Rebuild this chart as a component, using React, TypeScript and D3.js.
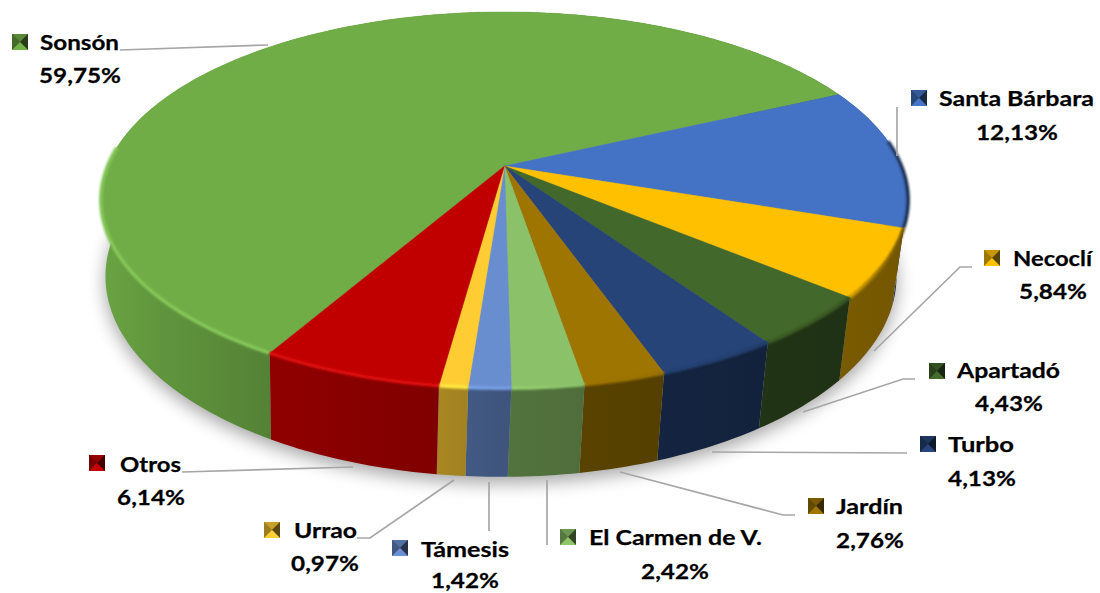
import React from "react";
import * as d3 from "d3";

const categories = ["Sonsón", "Santa Bárbara", "Necoclí", "Apartadó", "Turbo", "Jardín", "El Carmen de V.", "Támesis", "Urrao", "Otros"];
const shares = [59.75, 12.13, 5.84, 4.43, 4.13, 2.76, 2.42, 1.42, 0.97, 6.14];
const shareLabels = ["59,75%", "12,13%", "5,84%", "4,43%", "4,13%", "2,76%", "2,42%", "1,42%", "0,97%", "6,14%"];
const colors = ["#70ad47", "#4472c4", "#ffc000", "#43682b", "#264478", "#9e7500", "#8bc168", "#698ed0", "#ffcd33", "#c00000"];

// layout: key x/y, name x/baseline/width, pct centre/baseline
const keyPos = [[12,34],[911,90],[984,250],[929,363],[920,436],[808,498],[560,529],[392,540],[264,522],[89,455]];
const namePos = [[40,50],[939,106],[1013,266],[957,378],[948,452],[836,514],[589,545],[421,557],[294,538],[120,472]];
const nameWidths = [79,155,79,103,66,67,173,88,63,61];
const pctPos = [[80,83],[1017,140],[1053,299],[1009,411],[982,486],[870,548],[675,579],[465,588],[325,571],[151,505]];
const leaders = [
  [[120,50],[268,45]],
  [[897,107],[897,156]],
  [[972,267],[960,267],[874,351]],
  [[915,379],[903,379],[803,412]],
  [[907,453],[712,452]],
  [[795,515],[783,515],[620,472]],
  [[547,545],[547,480]],
  [[489,531],[489,482]],
  [[357,538],[370,538],[454,480]],
  [[182,472],[353,467]],
];

const W = 1100, H = 593;
const P = 0.181;
const TOP = { cx: 504.5, y0: 166, R: 397, k: 182 };
const BASE = { cx: 501, y0: 240, R: 389, k: 194 };
type Disc = typeof TOP;
const proj = (t: number, d: Disc): [number, number] => {
  const den = 1 - P * Math.sin(t);
  return [d.cx + (d.R * Math.cos(t)) / den, d.y0 + (d.k * Math.sin(t)) / den];
};
const rad = (deg: number) => (deg * Math.PI) / 180;
const arcs = d3.pie<number>().sort(null).startAngle(rad(-150.1)).endAngle(rad(209.9))(shares);
const line = d3.line();
const sample = (a: number, b: number) => {
  const n = Math.max(2, Math.ceil(Math.abs(b - a) / rad(1)));
  return d3.range(n + 1).map((i) => a + ((b - a) * i) / n);
};
const theta = (a: number) => a - Math.PI / 2;

const wallShade = d3.scaleLinear<number>().domain([100, 160, 270, 440, 500, 600, 760, 908]).range([0.95, 0.86, 0.75, 0.66, 0.6, 0.56, 0.5, 0.45]);
const shadeStops = wallShade.domain();
const scaleColor = (c: string, f: number) => {
  const r = d3.rgb(c);
  return d3.rgb(r.r * f, r.g * f, r.b * f).formatHex();
};
const lift = (c: string) => {
  const r = d3.rgb(c);
  const g = (v: number) => Math.min(255, v * 1.1 + 10);
  return d3.rgb(g(r.r), g(r.g), g(r.b)).formatHex();
};
const xPct = d3.scaleLinear().domain([100, 908]).range([0, 100]);
const PCT_STRETCH = 1.13;

function Key({ i }: { i: number }) {
  const [x, y] = keyPos[i];
  const s = 16, m = 8, c = colors[i];
  const pts = (a: number[][]) => a.map((p) => `${x + p[0]},${y + p[1]}`).join(" ");
  return (
    <g stroke="none">
      <rect x={x} y={y} width={s} height={s} fill={scaleColor(c, 0.6)} />
      <polygon points={pts([[0,0],[s,0],[m,m]])} fill={scaleColor(c, 0.78)} />
      <polygon points={pts([[0,0],[0,s],[m,m]])} fill={scaleColor(c, 0.62)} />
      <polygon points={pts([[s,0],[s,s],[m,m]])} fill={scaleColor(c, 0.35)} />
      <polygon points={pts([[0,s],[s,s],[m,m]])} fill={scaleColor(c, 1.02)} />
    </g>
  );
}

export default function App() {
  const baseFull = line(sample(0, Math.PI * 2).map((t) => proj(t, BASE))) + "Z";
  const order = arcs.map((_, i) => i);
  return (
    <svg width={W} height={H} style={{ position: "absolute", left: 0, top: 0 }} fontFamily="Lato, sans-serif">
      <defs>
        <filter id="shadow" filterUnits="userSpaceOnUse" x="0" y="0" width={W} height={H}>
          <feGaussianBlur stdDeviation="9" />
        </filter>
        <filter id="rim" filterUnits="userSpaceOnUse" x="0" y="0" width={W} height={H}>
          <feGaussianBlur stdDeviation="1.3" />
        </filter>
        {colors.map((c, i) => (
          <linearGradient key={i} id={`wall${i}`} gradientUnits="userSpaceOnUse" x1={100} x2={908} y1={0} y2={0}>
            {shadeStops.map((x) => (
              <stop key={x} offset={`${xPct(x)}%`} stopColor={scaleColor(c, wallShade(x))} />
            ))}
          </linearGradient>
        ))}
        {colors.map((c, i) => (
          <linearGradient key={i} id={`rimg${i}`} gradientUnits="userSpaceOnUse" x1={100} x2={908} y1={0} y2={0}>
            <stop offset="0%" stopColor={lift(c)} />
            <stop offset={`${xPct(440)}%`} stopColor={lift(c)} />
            <stop offset={`${xPct(580)}%`} stopColor={c} />
            <stop offset={`${xPct(850)}%`} stopColor={scaleColor(c, 0.8)} />
            <stop offset="100%" stopColor={scaleColor(c, 0.4)} />
          </linearGradient>
        ))}
      </defs>
      <path d={baseFull} transform="translate(0,6)" fill="#000" opacity={0.36} filter="url(#shadow)" />
      {order.map((i) => {
        const a = arcs[i];
        const ts = sample(theta(a.startAngle), theta(a.endAngle));
        const pts = [...ts.map((t) => proj(t, TOP)), ...[...ts].reverse().map((t) => proj(t, BASE))];
        return <path key={i} d={line(pts) + "Z"} fill={`url(#wall${i})`} />;
      })}
      {order.map((i) => {
        const a = arcs[i];
        const ts = sample(theta(a.startAngle), theta(a.endAngle));
        const pts: [number, number][] = [[TOP.cx, TOP.y0], ...ts.map((t) => proj(t, TOP))];
        return <path key={i} d={line(pts) + "Z"} fill={colors[i]} stroke={colors[i]} strokeWidth={0.4} />;
      })}
      {order.map((i) => {
        const a = arcs[i];
        // the rim runs along the near edge only
        const t0 = i === 0 ? theta(a.startAngle) : Math.max(theta(a.startAngle), rad(-8));
        const t1 = i === 0 ? rad(-174) : theta(a.endAngle);
        return (
          <path key={i} d={line(sample(t0, t1).map((t) => proj(t, TOP))) ?? ""} fill="none" stroke={`url(#rimg${i})`} strokeWidth={3.5} filter="url(#rim)" />
        );
      })}
      {leaders.map((l, i) => (
        <path key={i} d={line(l as [number, number][]) ?? ""} fill="none" stroke="#a6a6a6" strokeWidth={1.7} />
      ))}
      {categories.map((c, i) => (
        <g key={c} fontWeight={700} fontSize={21.5} fill="#000" stroke="#000" strokeWidth={0.25}>
          <Key i={i} />
          <text x={namePos[i][0]} y={namePos[i][1]} textLength={nameWidths[i]} lengthAdjust="spacingAndGlyphs">{c}</text>
          <text transform={`translate(${pctPos[i][0]},${pctPos[i][1]}) scale(${PCT_STRETCH},1)`} textAnchor="middle">{shareLabels[i]}</text>
        </g>
      ))}
    </svg>
  );
}
